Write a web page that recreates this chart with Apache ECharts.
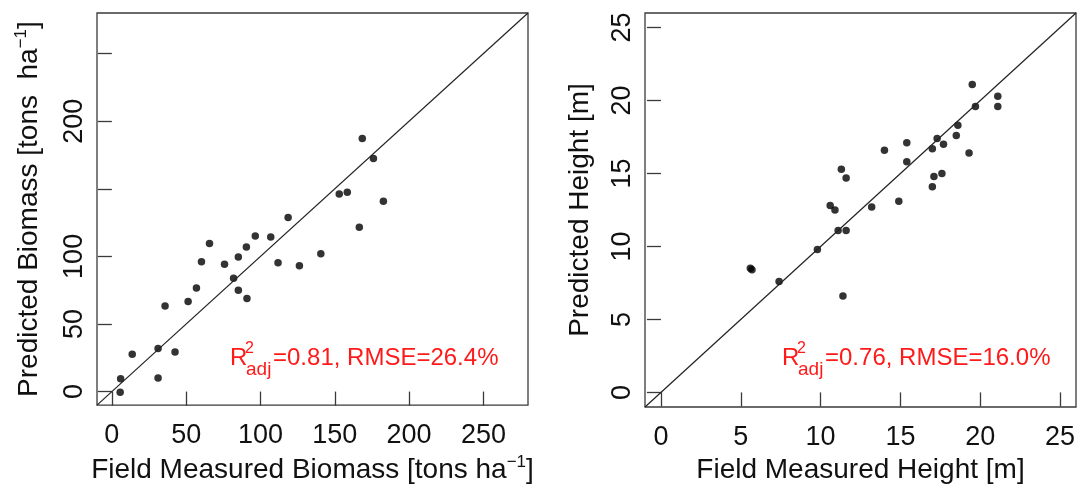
<!DOCTYPE html>
<html>
<head>
<meta charset="utf-8">
<script src="https://cdn.jsdelivr.net/npm/echarts@6/dist/echarts.min.js"></script>
<style>
  html, body { margin: 0; padding: 0; background: #fff; }
  #chart { width: 1079px; height: 489px; }
</style>
</head>
<body>
<div id="chart"></div>
<script>
// biomass panel (tons/ha)
const biomassField = [168.5, 176.0, 153.0, 158.4, 182.7, 166.5, 118.6, 96.5, 106.9, 65.7, 90.5, 60.3, 85.1, 75.8, 111.8,
  126.2, 140.6, 81.9, 56.9, 85.1, 90.9, 51.3, 35.8, 13.7, 31.1, 42.5, 31.1, 5.9, 5.6];
const biomassPred = [187.2, 172.3, 146.1, 147.4, 140.8, 121.5, 128.8, 115.1, 114.4, 109.5, 107.0, 96.0, 99.5, 94.1, 95.3,
  93.1, 101.9, 83.8, 76.7, 75.0, 68.9, 66.7, 63.3, 27.6, 31.8, 29.3, 10.0, 9.5, -0.5];

// height panel (m)
const heightField = [19.5, 21.1, 21.1, 19.7, 18.6, 18.5, 19.3, 17.3, 17.7, 17.0, 15.4, 15.4, 14.0, 17.1, 17.6,
  17.0, 14.9, 11.3, 11.6, 13.2, 10.6, 10.9, 11.1, 11.6, 9.8, 5.6, 5.7, 7.4, 11.4];
const heightPred = [21.1, 20.3, 19.6, 19.6, 18.3, 17.6, 16.4, 17.4, 17.0, 16.7, 17.1, 15.8, 16.6, 14.8, 15.0,
  14.1, 13.1, 15.3, 14.7, 12.7, 12.8, 12.5, 11.1, 11.1, 9.8, 8.5, 8.4, 7.6, 6.6];

const biomassRange = [-10, 280];
const biomassTicks = [0, 50, 100, 150, 200, 250];
const biomassYLabels = [0, 50, 100, 200];   // R drops 150 and 250 (overlap)
const heightRange = [-1, 26];
const heightTicks = [0, 5, 10, 15, 20, 25];

const FONT = 'Liberation Sans';
const ink = '#3a3a3a';

function pairs(xs, ys) {
  return xs.map((x, i) => [x, ys[i]]);
}

function axis(range, ticks, labels, isY, name, gap) {
  return {
    type: 'value',
    min: range[0],
    max: range[1],
    name: name,
    nameLocation: 'middle',
    nameGap: gap,
    nameRotate: isY ? 90 : 0,
    nameTextStyle: {
      fontFamily: FONT, fontSize: 28, color: '#111',
      rich: { sup: { fontFamily: FONT, fontSize: 17, color: '#111', verticalAlign: 'top', lineHeight: 32 } }
    },
    splitLine: { show: false },
    axisLine: { show: false },
    axisTick: { show: true, inside: false, length: 14, customValues: ticks, lineStyle: { color: ink, width: 1.3 } },
    axisLabel: {
      customValues: labels,
      rotate: isY ? 90 : 0,
      margin: isY ? 9 : 17,
      fontFamily: FONT, fontSize: 27, color: '#111'
    }
  };
}

const chart = echarts.init(document.getElementById('chart'));

// annotation "R2adj=..., RMSE=..." built from small text pieces
function annot(x0, y0, rest) {
  const red = '#ff1a1a';
  return [
    { type: 'text', left: x0, top: y0, style: { text: 'R', fontFamily: FONT, fontSize: 24, fill: red } },
    { type: 'text', left: x0 + 15, top: y0 - 5, style: { text: '2', fontFamily: FONT, fontSize: 16, fill: red } },
    { type: 'text', left: x0 + 16, top: y0 + 14, style: { text: 'adj', fontFamily: FONT, fontSize: 19, fill: red } },
    { type: 'text', left: x0 + 43, top: y0, style: { text: rest, fontFamily: FONT, fontSize: 24, fill: red } }
  ];
}

chart.setOption({
  animation: false,
  backgroundColor: '#fff',
  grid: [
    { left: 97, top: 13, width: 431, height: 394, show: true, borderColor: ink, borderWidth: 1.3, backgroundColor: 'transparent' },
    { left: 645, top: 13, width: 431, height: 394, show: true, borderColor: ink, borderWidth: 1.3, backgroundColor: 'transparent' }
  ],
  xAxis: [
    Object.assign(axis(biomassRange, biomassTicks, biomassTicks, false, 'Field Measured Biomass [tons ha{sup|−1}]', 47), { gridIndex: 0 }),
    Object.assign(axis(heightRange, heightTicks, heightTicks, false, 'Field Measured Height [m]', 47), { gridIndex: 1 })
  ],
  yAxis: [
    Object.assign(axis(biomassRange, biomassTicks, biomassYLabels, true, 'Predicted Biomass [tons  ha{sup|−1}]', 52), { gridIndex: 0 }),
    Object.assign(axis(heightRange, heightTicks, heightTicks, true, 'Predicted Height [m]', 51), { gridIndex: 1 })
  ],
  series: [
    {
      type: 'line', xAxisIndex: 0, yAxisIndex: 0, symbol: 'none', silent: true,
      data: [[biomassRange[0], biomassRange[0]], [biomassRange[1], biomassRange[1]]],
      lineStyle: { color: '#222', width: 1.2 }
    },
    {
      type: 'scatter', xAxisIndex: 0, yAxisIndex: 0, symbolSize: 7.5,
      itemStyle: { color: '#000' },
      data: pairs(biomassField, biomassPred)
    },
    {
      type: 'line', xAxisIndex: 1, yAxisIndex: 1, symbol: 'none', silent: true,
      data: [[heightRange[0], heightRange[0]], [heightRange[1], heightRange[1]]],
      lineStyle: { color: '#222', width: 1.2 }
    },
    {
      type: 'scatter', xAxisIndex: 1, yAxisIndex: 1, symbolSize: 7.5,
      itemStyle: { color: '#000' },
      data: pairs(heightField, heightPred)
    }
  ],
  graphic: annot(230, 346, '=0.81, RMSE=26.4%').concat(annot(782, 346, '=0.76, RMSE=16.0%'))
});
</script>
</body>
</html>
